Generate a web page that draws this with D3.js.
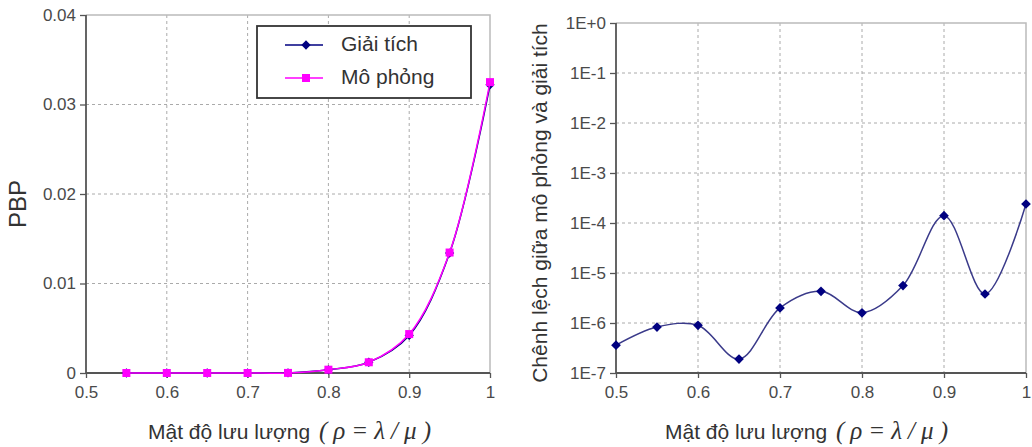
<!DOCTYPE html>
<html><head><meta charset="utf-8">
<script src="https://cdn.jsdelivr.net/npm/d3@7"></script>
<style>
body{margin:0;background:#fff;}
svg{display:block;font-family:"Liberation Sans",Arial,sans-serif;}
</style></head>
<body><svg id="c" width="1032" height="447"></svg>
<script>
// ---- data ----
const rho = [0.55, 0.6, 0.65, 0.7, 0.75, 0.8, 0.85, 0.9, 0.95, 1.0];
const pbpAnalytic = [0, 0, 0, 0, 0.00001, 0.00035, 0.0012, 0.0042, 0.0134, 0.0322];
const pbpSimulation = [0, 0, 0, 0, 0.00001, 0.00037, 0.0012, 0.00435, 0.01346, 0.0325];
const rhoDiff = [0.5, 0.55, 0.6, 0.65, 0.7, 0.75, 0.8, 0.85, 0.9, 0.95, 1.0];
const diffValues = [3.6e-7, 8.3e-7, 9.0e-7, 1.9e-7, 2.0e-6, 4.3e-6, 1.6e-6, 5.6e-6, 1.4e-4, 3.8e-6, 2.4e-4];
const xTicks = [0.5, 0.6, 0.7, 0.8, 0.9, 1];
const xTickLabels = ["0.5", "0.6", "0.7", "0.8", "0.9", "1"];
const yTicksLeft = [0, 0.01, 0.02, 0.03, 0.04];
const yTickLabelsLeft = ["0", "0.01", "0.02", "0.03", "0.04"];
const yTicksRight = [1e-7, 1e-6, 1e-5, 1e-4, 1e-3, 1e-2, 1e-1, 1];
const yTickLabelsRight = ["1E-7", "1E-6", "1E-5", "1E-4", "1E-3", "1E-2", "1E-1", "1E+0"];
const seriesNames = ["Giải tích", "Mô phỏng"];
const xTitle = "Mật độ lưu lượng";
const xTitleMath = "(ρ=λ/μ)";
const yTitleLeft = "PBP";
const yTitleRight = "Chênh lệch giữa mô phỏng và giải tích";

const NAVY = "#000080", MAG = "#ff00ff";
const svg = d3.select("#c");

function panel(opt) {
  const g = svg.append("g");
  const x = d3.scaleLinear().domain([0.5, 1]).range([opt.left, opt.right]);
  const y = opt.y;
  const [yb, yt] = y.range();
  // grid
  g.append("g").selectAll("line").data(xTicks.slice(1, -1)).join("line")
    .attr("x1", d => x(d)).attr("x2", d => x(d)).attr("y1", yt).attr("y2", yb)
    .attr("stroke", "#aaa").attr("stroke-dasharray", "3,3").attr("stroke-width", 1);
  g.append("g").selectAll("line").data(opt.yTicks.slice(1, -1)).join("line")
    .attr("x1", opt.left).attr("x2", opt.right).attr("y1", d => y(d)).attr("y2", d => y(d))
    .attr("stroke", "#aaa").attr("stroke-dasharray", "3,3").attr("stroke-width", 1);
  // frame top/right
  g.append("path").attr("d", `M${opt.left},${yt}H${opt.right}V${yb}`)
    .attr("fill", "none").attr("stroke", "#bbb").attr("stroke-width", 1.5);
  // axes
  const ax = g.append("g").attr("transform", `translate(0,${yb})`)
    .call(d3.axisBottom(x).tickValues(xTicks).tickFormat((d, i) => xTickLabels[i]).tickSize(5).tickPadding(8));
  const ay = g.append("g").attr("transform", `translate(${opt.left},0)`)
    .call(d3.axisLeft(y).tickValues(opt.yTicks).tickFormat((d, i) => opt.yLabels[i]).tickSize(6).tickPadding(4));
  [ax, ay].forEach(a => {
    a.select(".domain").attr("stroke", "#555").attr("stroke-width", 1.8);
    a.selectAll(".tick line").attr("stroke", "#555").attr("stroke-width", 1.3);
    a.selectAll("text").attr("font-size", 17).attr("fill", "#4a4a4a")
      .attr("font-family", "'Liberation Sans',Arial,sans-serif");
  });
  ax.select(".domain").attr("d", `M${opt.left},0H${opt.right}`);
  ay.select(".domain").attr("d", `M0,${yb}V${yt}`);
  // x title
  g.append("text").attr("x", opt.titleX).attr("y", 439).attr("font-size", 21).attr("fill", "#333").text(xTitle);
  g.append("text").attr("x", opt.titleX + 171).attr("y", 439)
    .attr("font-family", "'Liberation Serif','Times New Roman',serif").attr("font-style", "italic")
    .attr("font-size", 25).attr("fill", "#333")
    .attr("textLength", 112).attr("lengthAdjust", "spacing").text(xTitleMath);
  // y title
  g.append("text").attr("transform", `translate(${opt.yTitleX},${opt.yTitleY}) rotate(-90)`)
    .attr("text-anchor", "middle").attr("dominant-baseline", "middle")
    .attr("font-size", opt.yTitleSize).attr("fill", "#333").text(opt.yTitle);
  return {g, x, y};
}

// ---- left panel ----
const L = panel({left: 86, right: 490, y: d3.scaleLinear().domain([0, 0.04]).range([373, 15]),
  yTicks: yTicksLeft, yLabels: yTickLabelsLeft, titleX: 148, yTitle: yTitleLeft, yTitleX: 20, yTitleY: 204, yTitleSize: 24});
const lineL = d3.line().x((d, i) => L.x(rho[i])).y(d => L.y(d)).curve(d3.curveCatmullRom.alpha(0.5));
L.g.append("path").attr("d", lineL(pbpAnalytic)).attr("fill", "none").attr("stroke", NAVY).attr("stroke-width", 1.5);
L.g.append("g").selectAll("path").data(pbpAnalytic).join("path")
  .attr("d", d3.symbol(d3.symbolDiamond2, 55)).attr("fill", NAVY)
  .attr("transform", (d, i) => `translate(${L.x(rho[i])},${L.y(d)})`);
L.g.append("path").attr("d", lineL(pbpSimulation)).attr("fill", "none").attr("stroke", MAG).attr("stroke-width", 1.5);
L.g.append("g").selectAll("rect").data(pbpSimulation).join("rect")
  .attr("x", (d, i) => L.x(rho[i]) - 4).attr("y", d => L.y(d) - 4).attr("width", 8).attr("height", 8).attr("fill", MAG);

// legend
const lg = L.g.append("g");
lg.append("rect").attr("x", 257).attr("y", 26).attr("width", 214).attr("height", 72)
  .attr("fill", "#fff").attr("stroke", "#333").attr("stroke-width", 1.8);
seriesNames.forEach((name, i) => {
  const yy = 45 + i * 33;
  const c = i === 0 ? NAVY : MAG;
  lg.append("line").attr("x1", 285).attr("x2", 323).attr("y1", yy).attr("y2", yy).attr("stroke", c).attr("stroke-width", 1.5);
  if (i === 0) lg.append("path").attr("d", d3.symbol(d3.symbolDiamond2, 55)).attr("fill", c).attr("transform", `translate(306,${yy})`);
  else lg.append("rect").attr("x", 302).attr("y", yy - 4).attr("width", 8).attr("height", 8).attr("fill", c);
  lg.append("text").attr("x", 341).attr("y", yy).attr("dominant-baseline", "middle")
    .attr("font-size", 21).attr("fill", "#333").text(name);
});

// ---- right panel ----
const R = panel({left: 616, right: 1026, y: d3.scaleLog().domain([1e-7, 1]).range([373, 23]),
  yTicks: yTicksRight, yLabels: yTickLabelsRight, titleX: 665, yTitle: yTitleRight, yTitleX: 541, yTitleY: 203, yTitleSize: 21});
const lineR = d3.line().x((d, i) => R.x(rhoDiff[i])).y(d => R.y(d)).curve(d3.curveCatmullRom.alpha(0.5));
R.g.append("path").attr("d", lineR(diffValues)).attr("fill", "none").attr("stroke", "#3a3a8a").attr("stroke-width", 1.5);
R.g.append("g").selectAll("path").data(diffValues).join("path")
  .attr("d", d3.symbol(d3.symbolDiamond2, 60)).attr("fill", NAVY)
  .attr("transform", (d, i) => `translate(${R.x(rhoDiff[i])},${R.y(d)})`);
</script></body></html>
